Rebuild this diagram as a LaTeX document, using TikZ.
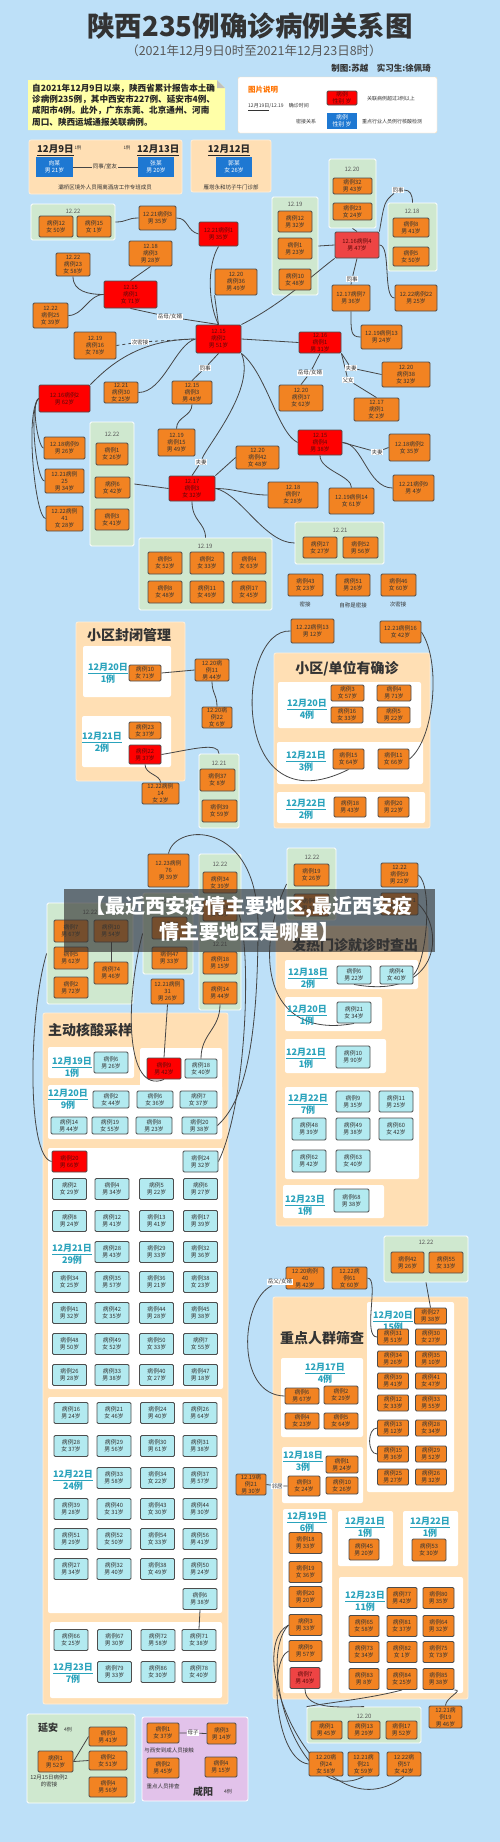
\documentclass[tikz,border=0pt]{standalone}
\usepackage{fontspec}
\setmainfont{Noto Sans CJK SC}
\pgfdeclarelayer{panels}
\pgfdeclarelayer{edges}
\pgfsetlayers{panels,edges,main}
\definecolor{bgc}{HTML}{BDE0F8}
\definecolor{org}{HTML}{F28322}
\definecolor{redA}{HTML}{FF0000}
\definecolor{redB}{HTML}{EE4444}
\definecolor{redT}{HTML}{5C0A0A}
\definecolor{cyn}{HTML}{B3EAF0}
\definecolor{grn}{HTML}{CFE8CF}
\definecolor{pch}{HTML}{FFDFB4}
\definecolor{pur}{HTML}{E2C2EA}
\definecolor{bdr}{HTML}{4D4D4D}
\definecolor{txc}{HTML}{333333}
\definecolor{lnc}{HTML}{454545}
\definecolor{dtc}{HTML}{2AA3BC}
\definecolor{blu}{HTML}{1E78D2}
\definecolor{yel}{HTML}{FFFFA8}
\newcommand\fsb{\fontsize{5.8}{7}\selectfont}
\newcommand\mybox[7]{\node[#1,minimum width={(#5)-(#3)},minimum height={(#6)-(#4)}] (#2) at ({((#3)+(#5))/2},{((#4)+(#6))/2}) {#7};}
\newcommand\cbox[7]{\node[#1,minimum width=#5pt,minimum height=#6pt] (#2) at (#3,#4) {#7};}
\newcommand\datel[5]{\node[dtx] (#1) at (#2,#3) {\underline{#4}\\#5};}
\tikzset{
 ob/.style={draw=bdr,fill=org,rounded corners=1.2pt,line width=0.9pt,text=txc,font=\fsb,align=center,inner sep=0pt},
 rb/.style={ob,fill=redA,text=redT},
 lrb/.style={ob,fill=redB,text=redT},
 cb/.style={ob,fill=cyn},
 bb/.style={fill=blu,text=white,font=\fsb,align=center,inner sep=0pt},
 gp/.style={draw=white,line width=0.8pt,fill=grn,rounded corners=1.5pt,inner sep=0pt},
 pp/.style={draw=white!50!pch,line width=0.8pt,fill=pch,rounded corners=2pt,inner sep=0pt},
 ppu/.style={draw=white,line width=0.8pt,fill=pur,rounded corners=2pt,inner sep=0pt},
 wp/.style={fill=white,rounded corners=2pt,inner sep=0pt},
 ln/.style={draw=lnc,line width=0.8pt},
 lbl/.style={fill=white,font=\fontsize{5.5}{6}\selectfont,inner sep=0.6pt,text=txc},
 plab/.style={font=\fontsize{6}{7}\selectfont,text=black!65,inner sep=0pt},
 dtx/.style={font=\fontsize{9}{10.5}\selectfont\bfseries,text=dtc,align=center,inner sep=0pt},
 captx/.style={font=\fontsize{5.5}{7}\selectfont,text=txc,align=center,inner sep=0pt},
 sect/.style={font=\fontsize{14}{16}\selectfont\bfseries,text=black!80,inner sep=0pt},
 smalltx/.style={font=\fontsize{5}{6}\selectfont,text=txc,inner sep=0pt},
}
\begin{document}
\begin{tikzpicture}[x=1pt,y=-1pt]
\begin{pgfonlayer}{panels}
\fill[bgc] (0,0) rectangle (500,1842);
\fill[yel] (28,80) -- (217,80) -- (225,88) -- (225,130) -- (28,130) -- cycle;
\fill[black!25] (217,80) -- (217,88) -- (225,88) -- cycle;
\mybox{pp}{pp1}{29}{140}{182}{194}{}
\mybox{pp}{pp2}{191}{140}{271}{192}{}
\mybox{gp}{g1}{31}{204}{115}{240}{}
\mybox{gp}{g2}{329}{159}{376}{228}{}
\mybox{gp}{g3}{272}{197}{318}{295}{}
\mybox{gp}{g4}{388}{203}{437}{271}{}
\mybox{gp}{g5}{90}{422}{134}{546}{}
\mybox{gp}{g6}{139}{538}{272}{610}{}
\mybox{gp}{g7}{295}{522}{384}{564}{}
\mybox{pp}{pp3}{76}{622}{185}{781}{}
\mybox{wp}{wp1}{83}{646}{171}{697}{}
\mybox{wp}{wp2}{82}{716}{171}{767}{}
\mybox{gp}{g8}{199}{754}{239}{828}{}
\mybox{pp}{pp4}{274}{653}{430}{828}{}
\mybox{wp}{wp3}{278}{682}{421}{728}{}
\mybox{wp}{wp4}{277}{742}{423}{784}{}
\mybox{wp}{wp5}{277}{792}{425}{823}{}
\mybox{gp}{g9}{199}{854}{241}{1010}{}
\mybox{gp}{g10}{143}{893}{193}{974}{}
\mybox{gp}{g11}{47}{903}{133}{1004}{}
\mybox{gp}{g12}{287}{848}{336}{920}{}
\mybox{pp}{pp5}{276}{926}{428}{1226}{}
\mybox{wp}{wp6}{285}{960}{418}{989}{}
\mybox{wp}{wp7}{285}{997}{382}{1031}{}
\mybox{wp}{wp8}{285}{1039}{386}{1073}{}
\mybox{wp}{wp9}{285}{1087}{419}{1179}{}
\mybox{wp}{wp10}{283}{1185}{384}{1218}{}
\mybox{pp}{pp6}{43}{1013}{228}{1704}{}
\mybox{wp}{wp11}{48}{1047}{134}{1078}{}
\mybox{wp}{wp12}{140}{1048}{222}{1139}{}
\mybox{wp}{wp13}{48}{1085}{222}{1139}{}
\mybox{wp}{wp14}{48}{1148}{223}{1389}{}
\mybox{wp}{wp15}{48}{1397}{222}{1613}{}
\mybox{wp}{wp16}{50}{1622}{222}{1698}{}
\mybox{gp}{g13}{384}{1236}{468}{1282}{}
\mybox{pp}{pp7}{273}{1297}{468}{1699}{}
\mybox{wp}{wp17}{367}{1302}{454}{1492}{}
\mybox{wp}{wp18}{281}{1358}{363}{1437}{}
\mybox{wp}{wp19}{282}{1447}{363}{1503}{}
\mybox{wp}{wp20}{283}{1509}{332}{1693}{}
\mybox{wp}{wp21}{338}{1511}{393}{1566}{}
\mybox{wp}{wp22}{403}{1511}{458}{1566}{}
\mybox{wp}{wp23}{339}{1577}{463}{1693}{}
\mybox{gp}{g14}{307}{1707}{421}{1743}{}
\mybox{gp}{gya}{27}{1714}{135}{1803}{}
\mybox{ppu}{gxy}{142}{1717}{248}{1801}{}
\end{pgfonlayer}
% ---------- header ----------
\node[font=\fontsize{27.5}{30}\selectfont\bfseries,text=txc] (title) at (250,26) {陕西235例确诊病例关系图};
\node[font=\fontsize{12.5}{14}\selectfont,text=black!65] (sub) at (254,51) {（2021年12月9日0时至2021年12月23日8时）};
\node[font=\fontsize{8.5}{10}\selectfont\bfseries,text=txc,anchor=east,inner sep=0] (auth) at (431,68) {制图:苏越\quad 实习生:徐佩琦};
\node[anchor=north west,font=\fontsize{8.6}{11.2}\selectfont\bfseries,text=black!85,inner sep=0pt,align=left] (note) at (32,84) {自2021年12月9日以来，陕西省累计报告本土确\\诊病例235例，其中西安市227例、延安市4例、\\咸阳市4例。此外，广东东莞、北京通州、河南\\周口、陕西运城通报关联病例。};
\node[fill=white,draw=pch,rounded corners=2pt,minimum width=199pt,minimum height=56pt,inner sep=0] (leg) at (337.5,105) {};
\node[anchor=west,font=\fontsize{7.5}{9}\selectfont\bfseries,text=orange!90!red,inner sep=0] (legt) at (248,90) {图片说明};
\node[anchor=west,smalltx] (legd) at (248,107) {\underline{12月19日}/12.19\quad 确诊时间};
\coordinate (lga) at (248,122);
\coordinate (lgb) at (287,122);
\node[anchor=west,smalltx] (legl) at (296,122) {密接关系};
\mybox{rb}{lg1}{327}{91}{357}{105}{病例\\性别 岁}
\node[anchor=west,smalltx] (lgr) at (367,99) {关联病例超过3例以上};
\mybox{bb}{lg2}{327}{113}{357}{129}{病例\\性别 岁}
\node[anchor=west,smalltx] (lgbt) at (362,122) {重点行业人员例行核酸检测};
% ---------- top panels ----------
\node[anchor=west,font=\fontsize{9.5}{11}\selectfont\bfseries,inner sep=0,text=black!85] (d9) at (37,150) {\underline{12月9日}};
\node[font=\fontsize{4.5}{5}\selectfont,text=txc,inner sep=0] (d9c) at (78,148) {1例};
\node[font=\fontsize{4.5}{5}\selectfont,text=txc,inner sep=0] (d13c) at (127,148) {1例};
\node[anchor=west,font=\fontsize{9.5}{11}\selectfont\bfseries,inner sep=0,text=black!85] (d13) at (137,150) {\underline{12月13日}};
\mybox{bb}{bb1}{36}{157}{73}{177}{向某\\男 21岁}
\mybox{bb}{bb2}{138}{157}{174}{177}{张某\\男 20岁}
\node[lbl,fill=pch] (lts) at (105,167) {同事/室友};
\node[captx] (cap1) at (105,187) {灞桥区境外人员隔离酒店工作专班成员};
\node[font=\fontsize{9.5}{11}\selectfont\bfseries,inner sep=0,text=black!85] (d12) at (229,150) {\underline{12月12日}};
\mybox{bb}{bb3}{216}{157}{252}{177}{郭某\\女 26岁}
\node[captx] (cap2) at (231,187) {雁塔永和坊子牛门诊部};
% ---------- network ----------
\node[plab] (g1l) at (73,211) {12.22};
\mybox{ob}{a1}{39}{216}{73}{237}{病例12\\女 50岁}
\mybox{ob}{a2}{77}{216}{111}{237}{病例15\\女 1岁}
\mybox{ob}{n1}{139}{206}{176}{230}{12.21病例3\\男 35岁}
\mybox{rb}{n2}{199}{222}{238}{246}{12.21病例1\\男 35岁}
\mybox{ob}{n3}{129}{241}{172}{266}{12.18\\病例3\\男 28岁}
\mybox{ob}{n4}{56}{253}{90}{276}{12.22\\病例23\\女 58岁}
\mybox{rb}{n5}{104}{281}{157}{308}{12.15\\病例1\\女 71岁}
\mybox{ob}{n6}{33}{303}{68}{328}{12.22\\病例25\\女 39岁}
\mybox{ob}{n7}{215}{269}{257}{295}{12.20\\病例36\\男 49岁}
\mybox{rb}{n8}{196}{325}{241}{353}{12.15\\病例2\\男 51岁}
\node[lbl] (lym) at (170,317) {岳母/女婿};
\mybox{ob}{n9}{74}{332}{116}{359}{12.19\\病例16\\女 78岁}
\node[lbl] (lcmj) at (140,342) {次密接};
\node[plab] (g2l) at (352,169) {12.20};
\mybox{ob}{b1}{333}{178}{372}{194}{病例32\\男 43岁}
\mybox{ob}{b2}{333}{203}{372}{220}{病例23\\女 24岁}
\node[plab] (g3l) at (295,204) {12.19};
\mybox{ob}{c1}{278}{211}{312}{232}{病例12\\男 32岁}
\mybox{ob}{c2}{278}{238}{312}{259}{病例1\\男 23岁}
\mybox{ob}{c3}{279}{269}{311}{290}{病例10\\女 48岁}
\mybox{lrb}{n10}{335}{232}{379}{258}{12.16病例4\\男 47岁}
\node[plab] (g4l) at (412,211) {12.18};
\mybox{ob}{d1}{393}{218}{429}{237}{病例8\\男 41岁}
\mybox{ob}{d2}{393}{247}{429}{266}{病例5\\女 50岁}
\node[lbl] (lts1) at (398,190) {同事};
\node[lbl] (lts2) at (352,279) {同事};
\mybox{ob}{n11}{332}{285}{370}{311}{12.17病例7\\男 36岁}
\mybox{ob}{n12}{395}{285}{437}{311}{12.22病例22\\男 25岁}
\mybox{ob}{n13}{361}{325}{402}{349}{12.19病例13\\男 24岁}
\mybox{rb}{n14}{299}{332}{341}{353}{12.16\\病例1\\男 31岁}
\mybox{rb}{n15}{39}{385}{90}{412}{12.16病例2\\男 62岁}
\mybox{ob}{n16}{104}{382}{138}{403}{12.21\\病例30\\女 25岁}
\mybox{ob}{n17}{172}{381}{212}{404}{12.15\\病例3\\男 48岁}
\node[lbl] (lts3) at (205,368) {同事};
\mybox{ob}{n18}{158}{429}{195}{456}{12.19\\病例15\\男 49岁}
\node[lbl] (lfq1) at (201,462) {夫妻};
\mybox{rb}{n19}{169}{476}{215}{501}{12.17\\病例3\\女 32岁}
\mybox{ob}{n20}{44}{437}{85}{459}{12.18病例9\\男 26岁}
\mybox{ob}{n21}{45}{469}{84}{493}{12.21病例\\25\\男 34岁}
\mybox{ob}{n22}{46}{506}{83}{531}{12.22病例\\41\\女 28岁}
\node[plab] (g5l) at (112,434) {12.22};
\mybox{ob}{e1}{96}{443}{128}{465}{病例1\\女 26岁}
\mybox{ob}{e2}{95}{477}{130}{498}{病例6\\女 42岁}
\mybox{ob}{e3}{95}{509}{129}{530}{病例3\\女 41岁}
\mybox{ob}{n23}{236}{446}{279}{469}{12.20\\病例42\\女 48岁}
\node[plab] (g6l) at (205,546) {12.19};
\mybox{ob}{f1}{148}{552}{182}{574}{病例5\\女 52岁}
\mybox{ob}{f2}{190}{552}{224}{574}{病例2\\女 33岁}
\mybox{ob}{f3}{232}{552}{266}{574}{病例4\\女 63岁}
\mybox{ob}{f4}{148}{581}{182}{603}{病例8\\女 48岁}
\mybox{ob}{f5}{190}{581}{224}{603}{病例11\\女 49岁}
\mybox{ob}{f6}{232}{581}{266}{603}{病例17\\女 45岁}
\node[lbl] (lym2) at (310,373) {岳母/女婿};
\node[lbl] (lfq2) at (351,368) {夫妻};
\node[lbl] (lfn) at (348,380) {父女};
\mybox{ob}{n24}{279}{385}{323}{411}{12.20\\病例37\\女 62岁}
\mybox{ob}{n25}{382}{362}{430}{387}{12.20\\病例38\\女 32岁}
\mybox{ob}{n26}{354}{398}{399}{421}{12.17\\病例1\\女 2岁}
\mybox{rb}{n27}{298}{430}{342}{455}{12.15\\病例4\\男 38岁}
\mybox{ob}{n28}{389}{434}{430}{461}{12.18病例2\\女 35岁}
\node[lbl] (lfq3) at (377,452) {夫妻};
\mybox{ob}{n29}{393}{475}{434}{501}{12.21病例9\\男 4岁}
\mybox{ob}{n30}{268}{482}{318}{508}{12.18\\病例7\\女 28岁}
\mybox{ob}{n31}{329}{488}{374}{514}{12.19病例14\\女 61岁}
\node[plab] (g7l) at (340,530) {12.21};
\mybox{ob}{h1}{303}{537}{337}{558}{病例27\\女 27岁}
\mybox{ob}{h2}{343}{537}{378}{558}{病例52\\男 56岁}
\mybox{ob}{n32}{288}{574}{323}{596}{病例43\\女 23岁}
\node[captx] (cp32) at (305,604) {密接};
\mybox{ob}{n33}{336}{574}{370}{596}{病例51\\男 26岁}
\node[captx] (cp33) at (353,605) {自称是密接};
\mybox{ob}{n34}{381}{574}{416}{596}{病例46\\女 60岁}
\node[captx] (cp34) at (398,604) {次密接};
% ---------- 小区封闭管理 ----------
\node[sect,anchor=west] (s1t) at (87,635) {小区封闭管理};
\datel{dk1}{108}{673}{12月20日}{1例}
\mybox{ob}{k1}{129}{665}{161}{681}{病例10\\女 71岁}
\datel{dk2}{102}{742}{12月21日}{2例}
\mybox{ob}{k2}{129}{722}{161}{739}{病例23\\女 37岁}
\mybox{rb}{k3}{129}{745}{161}{764}{病例22\\男 37岁}
\mybox{ob}{k4}{195}{659}{229}{681}{12.20病\\例11\\男 44岁}
\mybox{ob}{k5}{202}{707}{232}{728}{12.20病\\例22\\女 6岁}
\mybox{ob}{k6}{142}{783}{179}{804}{12.22病例\\14\\女 2岁}
\node[plab] (g8l) at (219,763) {12.21};
\mybox{ob}{k7}{200}{769}{235}{791}{病例37\\女 8岁}
\mybox{ob}{k8}{202}{800}{237}{822}{病例39\\女 59岁}
% ---------- 小区/单位有确诊 ----------
\node[sect] (s2t) at (347,669) {小区/单位有确诊};
\datel{dm1}{307}{709}{12月20日}{4例}
\mybox{ob}{m1}{331}{685}{364}{701}{病例3\\女 57岁}
\mybox{ob}{m2}{377}{685}{411}{701}{病例4\\男 71岁}
\mybox{ob}{m3}{331}{707}{363}{723}{病例16\\女 33岁}
\mybox{ob}{m4}{377}{707}{410}{723}{病例5\\男 22岁}
\datel{dm2}{306}{761}{12月21日}{3例}
\mybox{ob}{m5}{333}{749}{364}{769}{病例15\\女 64岁}
\mybox{ob}{m6}{378}{749}{409}{769}{病例11\\女 66岁}
\datel{dm3}{306}{809}{12月22日}{2例}
\mybox{ob}{m7}{334}{797}{366}{817}{病例18\\男 43岁}
\mybox{ob}{m8}{378}{797}{409}{817}{病例20\\男 22岁}
\mybox{ob}{k9}{291}{619}{334}{643}{12.22病例13\\男 12岁}
\mybox{ob}{k10}{380}{621}{421}{643}{12.21病例16\\女 42岁}
% ---------- middle ----------
\mybox{ob}{n35}{148}{854}{189}{887}{12.23病例\\76\\男 39岁}
\node[plab] (g9l) at (220,864) {12.22};
\mybox{ob}{p1}{203}{872}{237}{893}{病例34\\女 39岁}
\mybox{ob}{p2}{203}{900}{237}{921}{病例58\\女 65岁}
\node[plab] (g9m) at (220,944) {12.21};
\mybox{ob}{p3}{203}{952}{237}{974}{病例18\\男 15岁}
\mybox{ob}{p4}{203}{982}{237}{1004}{病例14\\男 44岁}
\node[plab] (g10l) at (168,901) {12.22};
\mybox{ob}{q1}{152}{917}{187}{939}{病例53\\女 35岁}
\mybox{ob}{q2}{152}{947}{187}{969}{病例47\\男 33岁}
\mybox{ob}{n36}{151}{979}{184}{1004}{12.21病例\\31\\男 26岁}
\node[plab] (g11l) at (90,912) {12.22};
\mybox{ob}{r1}{54}{920}{88}{942}{病例7\\男 67岁}
\mybox{ob}{r2}{94}{920}{128}{942}{病例10\\男 54岁}
\mybox{ob}{r3}{54}{947}{88}{969}{病例5\\男 62岁}
\mybox{ob}{r4}{94}{962}{128}{984}{病例74\\男 46岁}
\mybox{ob}{r5}{54}{977}{88}{998}{病例2\\男 72岁}
\node[plab] (g12l) at (312,857) {12.22};
\mybox{ob}{s1}{294}{864}{329}{886}{病例19\\女 26岁}
\mybox{ob}{s2}{294}{894}{329}{916}{病例70\\男 33岁}
\mybox{ob}{n37}{381}{863}{418}{887}{12.22\\病例59\\男 22岁}
\mybox{ob}{n38}{381}{893}{418}{915}{12.22病例71\\男 33岁}
% ---------- 发热门诊 ----------
\node[sect] (s3t) at (355,945) {发热门诊就诊时查出};
\datel{dt1}{308}{978}{12月18日}{2例}
\mybox{cb}{t1}{337}{966}{371}{984}{病例6\\男 22岁}
\mybox{cb}{t2}{380}{966}{413}{984}{病例4\\女 40岁}
\datel{dt2}{307}{1015}{12月20日}{1例}
\mybox{cb}{t3}{337}{1002}{371}{1023}{病例21\\女 34岁}
\datel{dt3}{306}{1058}{12月21日}{1例}
\mybox{cb}{t4}{336}{1046}{370}{1068}{病例10\\男 90岁}
\datel{dt4}{308}{1104}{12月22日}{7例}
\mybox{cb}{t5}{336}{1091}{370}{1112}{病例9\\男 35岁}
\mybox{cb}{t6}{379}{1091}{413}{1112}{病例11\\男 25岁}
\mybox{cb}{t7}{292}{1118}{326}{1140}{病例48\\男 39岁}
\mybox{cb}{t8}{336}{1118}{370}{1140}{病例49\\男 38岁}
\mybox{cb}{t9}{379}{1118}{413}{1140}{病例60\\女 42岁}
\mybox{cb}{t10}{292}{1150}{326}{1172}{病例62\\男 42岁}
\mybox{cb}{t11}{336}{1150}{370}{1172}{病例63\\女 40岁}
\datel{dt5}{305}{1205}{12月23日}{1例}
\mybox{cb}{t12}{334}{1189}{369}{1212}{病例68\\男 38岁}
% ---------- 主动核酸采样 ----------
\node[sect,anchor=west] (s4t) at (48,1030) {主动核酸采样};
\datel{du1}{72}{1067}{12月19日}{1例}
\mybox{cb}{u1}{94}{1052}{128}{1073}{病例6\\男 26岁}
\mybox{rb}{u2}{147}{1058}{181}{1079}{病例9\\男 42岁}
\mybox{cb}{u3}{185}{1059}{217}{1078}{病例18\\女 40岁}
\datel{du2}{68}{1099}{12月20日}{9例}
\mybox{cb}{u4}{93}{1091}{129}{1108}{病例2\\女 44岁}
\mybox{cb}{u5}{137}{1091}{173}{1108}{病例6\\女 36岁}
\mybox{cb}{u6}{180}{1091}{217}{1108}{病例7\\女 37岁}
\mybox{cb}{u7}{51}{1117}{87}{1134}{病例14\\男 44岁}
\mybox{cb}{u8}{92}{1117}{128}{1134}{病例19\\女 55岁}
\mybox{cb}{u9}{136}{1117}{172}{1134}{病例8\\男 23岁}
\mybox{cb}{u10}{182}{1117}{217}{1134}{病例20\\男 38岁}
\mybox{rb}{v0}{52}{1151}{87}{1172}{病例20\\男 66岁}
\mybox{cb}{v00}{183}{1151}{218}{1172}{病例24\\男 32岁}
\cbox{cb}{v1}{69.5}{1189}{34}{21}{病例2\\女 29岁}
\cbox{cb}{v2}{112}{1189}{34}{21}{病例4\\男 34岁}
\cbox{cb}{v3}{156.5}{1189}{34}{21}{病例5\\男 22岁}
\cbox{cb}{v4}{200.5}{1189}{34}{21}{病例6\\男 27岁}
\cbox{cb}{v5}{69.5}{1221}{34}{21}{病例8\\男 24岁}
\cbox{cb}{v6}{112}{1221}{34}{21}{病例12\\男 41岁}
\cbox{cb}{v7}{156.5}{1221}{34}{21}{病例13\\男 41岁}
\cbox{cb}{v8}{200.5}{1221}{34}{21}{病例17\\男 39岁}
\datel{du3}{72}{1254}{12月21日}{29例}
\cbox{cb}{v9}{112}{1252}{34}{21}{病例28\\男 43岁}
\cbox{cb}{v10}{156.5}{1252}{34}{21}{病例29\\男 33岁}
\cbox{cb}{v11}{200.5}{1252}{34}{21}{病例32\\男 36岁}
\cbox{cb}{v12}{69.5}{1282}{34}{21}{病例34\\女 25岁}
\cbox{cb}{v13}{112}{1282}{34}{21}{病例35\\男 57岁}
\cbox{cb}{v14}{156.5}{1282}{34}{21}{病例36\\男 21岁}
\cbox{cb}{v15}{200.5}{1282}{34}{21}{病例38\\女 23岁}
\cbox{cb}{v16}{69.5}{1313}{34}{21}{病例41\\男 32岁}
\cbox{cb}{v17}{112}{1313}{34}{21}{病例42\\女 35岁}
\cbox{cb}{v18}{156.5}{1313}{34}{21}{病例44\\男 28岁}
\cbox{cb}{v19}{200.5}{1313}{34}{21}{病例45\\男 38岁}
\cbox{cb}{v20}{69.5}{1344}{34}{21}{病例48\\男 50岁}
\cbox{cb}{v21}{112}{1344}{34}{21}{病例49\\女 52岁}
\cbox{cb}{v22}{156.5}{1344}{34}{21}{病例50\\女 33岁}
\cbox{cb}{v23}{200.5}{1344}{34}{21}{病例7\\女 55岁}
\cbox{cb}{v24}{69.5}{1375}{34}{21}{病例26\\男 28岁}
\cbox{cb}{v25}{112}{1375}{34}{21}{病例33\\男 38岁}
\cbox{cb}{v26}{156.5}{1375}{34}{21}{病例40\\女 27岁}
\cbox{cb}{v27}{200.5}{1375}{34}{21}{病例47\\男 18岁}
\cbox{cb}{w1}{71}{1413}{34}{21}{病例16\\男 24岁}
\cbox{cb}{w2}{114}{1413}{34}{21}{病例21\\女 46岁}
\cbox{cb}{w3}{157.5}{1413}{34}{21}{病例24\\男 40岁}
\cbox{cb}{w4}{200}{1413}{34}{21}{病例26\\男 64岁}
\cbox{cb}{w5}{71}{1446}{34}{21}{病例28\\女 37岁}
\cbox{cb}{w6}{114}{1446}{34}{21}{病例29\\男 56岁}
\cbox{cb}{w7}{157.5}{1446}{34}{21}{病例30\\男 61岁}
\cbox{cb}{w8}{200}{1446}{34}{21}{病例31\\男 38岁}
\datel{du4}{73}{1480}{12月22日}{24例}
\cbox{cb}{w9}{114}{1478}{34}{21}{病例33\\男 58岁}
\cbox{cb}{w10}{157.5}{1478}{34}{21}{病例34\\女 22岁}
\cbox{cb}{w11}{200}{1478}{34}{21}{病例37\\男 57岁}
\cbox{cb}{w12}{71}{1509}{34}{21}{病例39\\男 28岁}
\cbox{cb}{w13}{114}{1509}{34}{21}{病例40\\女 31岁}
\cbox{cb}{w14}{157.5}{1509}{34}{21}{病例43\\女 30岁}
\cbox{cb}{w15}{200}{1509}{34}{21}{病例44\\男 30岁}
\cbox{cb}{w16}{71}{1539}{34}{21}{病例51\\男 29岁}
\cbox{cb}{w17}{114}{1539}{34}{21}{病例52\\女 50岁}
\cbox{cb}{w18}{157.5}{1539}{34}{21}{病例54\\女 33岁}
\cbox{cb}{w19}{200}{1539}{34}{21}{病例56\\男 41岁}
\cbox{cb}{w20}{71}{1569}{34}{21}{病例27\\男 34岁}
\cbox{cb}{w21}{114}{1569}{34}{21}{病例32\\男 40岁}
\cbox{cb}{w22}{157.5}{1569}{34}{21}{病例38\\女 49岁}
\cbox{cb}{w23}{200}{1569}{34}{21}{病例50\\男 24岁}
\cbox{cb}{w24}{200}{1599}{34}{21}{病例6\\男 38岁}
\cbox{cb}{x1}{71}{1640}{34}{21}{病例66\\女 25岁}
\cbox{cb}{x2}{114.5}{1640}{34}{21}{病例67\\男 30岁}
\cbox{cb}{x3}{158}{1640}{34}{21}{病例72\\男 58岁}
\cbox{cb}{x4}{199}{1640}{34}{21}{病例71\\女 38岁}
\datel{du5}{73}{1673}{12月23日}{7例}
\cbox{cb}{x5}{114.5}{1672}{34}{21}{病例79\\男 33岁}
\cbox{cb}{x6}{158}{1672}{34}{21}{病例86\\女 30岁}
\cbox{cb}{x7}{199}{1672}{34}{21}{病例78\\女 40岁}
% ---------- 重点人群筛查 ----------
\node[plab] (g13l) at (426,1242) {12.22};
\mybox{ob}{xa}{391}{1252}{424}{1273}{病例42\\男 26岁}
\mybox{ob}{xb}{429}{1252}{463}{1273}{病例55\\女 33岁}
\mybox{ob}{y1}{286}{1267}{324}{1289}{12.20病例\\40\\男 42岁}
\mybox{ob}{y2}{332}{1267}{367}{1289}{12.22病\\例61\\女 60岁}
\node[lbl] (lyf) at (280,1282) {岳父/女婿};
\node[sect,anchor=west] (s5t) at (280,1338) {重点人群筛查};
\datel{dz1}{393}{1321}{12月20日}{15例}
\cbox{ob}{z0}{430.5}{1316}{32}{16}{病例27\\男 38岁}
\cbox{ob}{za1}{393}{1337}{31}{16}{病例31\\男 51岁}
\cbox{ob}{zb1}{431}{1337}{31}{16}{病例30\\女 27岁}
\cbox{ob}{za2}{393}{1359}{31}{16}{病例34\\男 26岁}
\cbox{ob}{zb2}{431}{1359}{31}{16}{病例35\\男 10岁}
\cbox{ob}{za3}{393}{1381}{31}{16}{病例39\\男 41岁}
\cbox{ob}{zb3}{431}{1381}{31}{16}{病例41\\女 47岁}
\cbox{ob}{za4}{393}{1403}{31}{16}{病例12\\女 33岁}
\cbox{ob}{zb4}{431}{1403}{31}{16}{病例33\\男 55岁}
\cbox{ob}{za5}{393}{1428}{31}{16}{病例13\\男 12岁}
\cbox{ob}{zb5}{431}{1428}{31}{16}{病例28\\女 34岁}
\cbox{ob}{za6}{393}{1454}{31}{16}{病例15\\男 36岁}
\cbox{ob}{zb6}{431}{1454}{31}{16}{病例29\\男 52岁}
\cbox{ob}{za7}{393}{1477}{31}{16}{病例25\\男 27岁}
\cbox{ob}{zb7}{431}{1477}{31}{16}{病例26\\男 32岁}
\datel{dz2}{325}{1373}{12月17日}{4例}
\mybox{ob}{zz1}{285}{1388}{319}{1404}{病例6\\男 67岁}
\mybox{ob}{zz2}{324}{1386}{358}{1404}{病例2\\女 29岁}
\mybox{ob}{zz3}{285}{1413}{319}{1429}{病例4\\女 23岁}
\mybox{ob}{zz4}{324}{1413}{358}{1429}{病例5\\女 64岁}
\datel{dz3}{303}{1461}{12月18日}{3例}
\mybox{ob}{zy1}{326}{1456}{358}{1473}{病例1\\男 24岁}
\mybox{ob}{zy2}{288}{1476}{320}{1496}{病例3\\女 24岁}
\mybox{ob}{zy3}{326}{1477}{358}{1494}{病例10\\女 26岁}
\mybox{ob}{y3}{236}{1474}{266}{1495}{12.19病\\例21\\男 30岁}
\node[lbl] (llj) at (277,1486) {邻居};
\datel{dz4}{307}{1522}{12月19日}{6例}
\cbox{ob}{zx1}{305.5}{1543}{33}{21}{病例18\\男 33岁}
\cbox{ob}{zx2}{305.5}{1572}{33}{21}{病例19\\女 36岁}
\cbox{ob}{zx3}{305.5}{1597}{33}{21}{病例20\\男 20岁}
\cbox{ob}{zx4}{305.5}{1625}{33}{21}{病例3\\男 33岁}
\cbox{ob}{zx5}{305.5}{1651}{33}{21}{病例9\\男 57岁}
\cbox{lrb}{zx6}{305}{1678}{30}{21}{病例7\\男 49岁}
\datel{dz5}{365}{1527}{12月21日}{1例}
\mybox{ob}{zw1}{349}{1539}{379}{1560}{病例45\\男 20岁}
\datel{dz6}{430}{1527}{12月22日}{1例}
\mybox{ob}{zw2}{412}{1539}{446}{1561}{病例53\\女 30岁}
\datel{dz7}{365}{1601}{12月23日}{11例}
\cbox{ob}{ac1}{402}{1598}{30}{21}{病例77\\男 42岁}
\cbox{ob}{ac2}{438.5}{1598}{31}{21}{病例80\\男 35岁}
\cbox{ob}{ac3}{364}{1626}{30}{21}{病例65\\女 58岁}
\cbox{ob}{ac4}{402}{1626}{30}{21}{病例81\\女 37岁}
\cbox{ob}{ac5}{438.5}{1626}{31}{21}{病例64\\男 32岁}
\cbox{ob}{ac6}{364}{1652}{30}{21}{病例73\\女 34岁}
\cbox{ob}{ac7}{402}{1652}{30}{21}{病例82\\女 1岁}
\cbox{ob}{ac8}{438.5}{1652}{31}{21}{病例75\\女 73岁}
\cbox{ob}{ac9}{364}{1679}{30}{21}{病例83\\男 8岁}
\cbox{ob}{ac10}{402}{1679}{30}{21}{病例84\\女 25岁}
\cbox{ob}{ac11}{438.5}{1679}{31}{21}{病例85\\男 38岁}
\node[plab] (g14l) at (364,1716) {12.20};
\mybox{ob}{aa1}{311}{1721}{342}{1739}{病例1\\男 45岁}
\mybox{ob}{aa2}{348}{1721}{380}{1739}{病例13\\男 29岁}
\mybox{ob}{aa3}{386}{1721}{417}{1739}{病例17\\男 52岁}
\mybox{ob}{ab1}{429}{1706}{462}{1728}{12.21病\\例19\\男 46岁}
\mybox{ob}{ab2}{309}{1752}{343}{1776}{12.20病\\例24\\女 58岁}
\mybox{ob}{ab3}{348}{1752}{379}{1776}{12.21病\\例21\\女 59岁}
\mybox{ob}{ab4}{387}{1752}{421}{1776}{12.22病\\例57\\女 42岁}
% ---------- 延安 / 咸阳 ----------
\node[font=\fontsize{10}{12}\selectfont\bfseries,text=black!80,inner sep=0] (yat) at (48,1728) {延安};
\node[smalltx] (yac) at (68,1730) {4例};
\mybox{ob}{ya1}{38}{1751}{73}{1772}{病例1\\男 52岁}
\node[captx] (yacap) at (49,1781) {12月15日病例2\\的密接};
\mybox{ob}{ya2}{89}{1727}{127}{1746}{病例3\\男 41岁}
\mybox{ob}{ya3}{89}{1751}{127}{1770}{病例2\\女 51岁}
\mybox{ob}{ya4}{89}{1777}{127}{1797}{病例4\\男 56岁}
\mybox{ob}{xy1}{147}{1723}{179}{1743}{病例1\\女 37岁}
\mybox{ob}{xy2}{207}{1723}{236}{1744}{病例3\\男 14岁}
\node[lbl] (lmz) at (193,1733) {母子};
\node[captx] (xycap1) at (169,1750) {与西安到咸人员接触};
\mybox{ob}{xy3}{147}{1758}{179}{1778}{病例2\\男 45岁}
\mybox{ob}{xy4}{205}{1757}{237}{1777}{病例4\\男 15岁}
\node[captx] (xycap2) at (163,1786) {重点人员排查};
\node[font=\fontsize{10}{12}\selectfont\bfseries,text=black!80,inner sep=0] (xyt) at (203,1792) {咸阳};
\node[smalltx] (xyc) at (228,1792) {4例};
\coordinate (via1) at (258,925);
% ---------- connectors ----------
\begin{pgfonlayer}{edges}
\draw[ln] (bb1) -- (lts) -- (bb2);
\draw[ln] (lga) -- (lgb);
\draw[ln] (g1.east) .. controls +(12,0) and +(-12,0) .. (n1.west);
\draw[ln] (n1.east) .. controls +(12,0) and +(-12,-3) .. (n2.west);
\draw[ln] (n3.south) -- (n5.north);
\draw[ln] (n4.south) .. controls +(0,15) and +(-15,0) .. (n5.west);
\draw[ln] (n6.east) .. controls +(15,0) and +(-15,0) .. (n5.west);
\draw[ln] (n5.south) -- (lym) -- (n8.north);
\draw[ln] (n2.south) .. controls +(-12,20) and +(-10,-20) .. (n8.north);
\draw[ln] (n7.south west) -- (n8.north);
\draw[ln,dashed] (n9.east) -- (lcmj) -- (n8.west);
\draw[ln] (n8.west) .. controls +(-60,0) and +(15,-15) .. (n15.north east);
\draw[ln] (n8.west) .. controls +(-20,5) and +(25,0) .. (n16.east);
\draw[ln] (n8.south) -- (lts3) -- (n17.north);
\draw[ln] (n17.south) .. controls +(0,12) and +(0,-12) .. (n18.north);
\draw[ln] (n8.south east) .. controls +(15,35) and +(5,-15) .. (lfq1) -- (n19.north);
\draw[ln] (n8.east) -- (n14.west);
\draw[ln] (n8.south east) .. controls +(25,20) and +(-20,-10) .. (n27.west);
\draw[ln] (n8.north east) .. controls +(40,-20) and +(-20,15) .. (n10.south west);
\draw[ln] (n10.west) -- (g3.east);
\draw[ln] (n10.north) -- (g2.south);
\draw[ln] (n10.north east) .. controls +(5,-30) .. (lts1) .. controls +(12,0) and +(0,-8) .. (g4.north);
\draw[ln] (n10.east) .. controls +(12,0) and +(-12,0) .. (n12.west);
\draw[ln] (n10.south) -- (lts2) -- (n11.north);
\draw[ln] (n11.south) .. controls +(0,20) and +(-10,0) .. (n13.west);
\draw[ln] (n14.south) -- (lym2) -- (n24.north);
\draw[ln] (n14.south east) -- (lfq2) -- (n25.west);
\draw[ln] (n14.south east) -- (lfn) -- (n26.north);
\draw[ln] (n27.east) -- (lfq3) -- (n28.west);
\draw[ln] (n27.east) .. controls +(20,0) and +(-25,0) .. (n29.west);
\draw[ln] (n27.south) .. controls +(0,15) and +(0,-12) .. (n31.north);
\draw[ln] (n19.west) -- (g5.east);
\draw[ln] (n19.north east) -- (n23.west);
\draw[ln] (n19.east) .. controls +(20,0) and +(-20,0) .. (n30.west);
\draw[ln] (n19.east) .. controls +(25,5) and +(-30,0) .. (g7.west);
\draw[ln] (n19.south) .. controls +(0,20) and +(0,-15) .. (g6.north);
\draw[ln] (n15.west) .. controls +(-8,5) and +(-5,0) .. (n20.west);
\draw[ln] (n15.west) .. controls +(-10,10) and +(-8,0) .. (n21.west);
\draw[ln] (n15.west) .. controls +(-14,15) and +(-10,0) .. (n22.west);
\draw[ln] (k1.east) -- (k4.west);
\draw[ln] (k4.south) .. controls +(0,12) and +(0,-12) .. (k5.north);
\draw[ln] (k3.east) .. controls +(30,-5) and +(0,-12) .. (g8.north);
\draw[ln] (k3.south) .. controls +(0,10) and +(0,-8) .. (k6.north);
\draw[ln] (k9.west) .. controls (235,628) and (228,830) .. (m5.south);
\draw[ln] (k10.east) .. controls +(20,30) and +(25,-20) .. (m6.east);
\draw[ln] (r2.south) -- (r4.north);
\draw[ln] (g11.west) .. controls +(-18,60) and +(-25,-5) .. (v0.west);
\draw[ln] (n36.south) -- (u2.north);
\draw[ln] (p4.south) .. controls +(0,25) and +(0,-25) .. (u3.north);
\draw[ln] (n35.north) .. controls (175,822) and (258,820) .. (via1) .. controls (258,1060) and (240,1105) .. (u10.east);
\draw[ln] (p2.east) .. controls (252,940) and (248,1100) .. (v00.east);
\draw[ln] (g10.west) .. controls (125,1000) and (125,1095) .. (u2.south);
\draw[ln] (n37.east) .. controls +(14,10) and +(14,-15) .. (t2.east);
\draw[ln] (n38.east) .. controls (445,930) and (440,1000) .. (t1.south);
\draw[ln] (g12.west) .. controls (255,950) and (262,1040) .. (t3.south);
\draw[ln] (g13.south) -- (z0.north);
\draw[ln] (y1.west) -- (lyf);
\draw[ln] (lyf) .. controls (240,1300) and (235,1395) .. (zz1.west);
\draw[ln] (y2.east) .. controls (380,1278) and (362,1337) .. (za1.west);
\draw[ln] (za5.west) .. controls +(-10,0) and +(-10,0) .. (za6.west);
\draw[ln] (y3.east) -- (llj) -- (zy2.west);
\draw[ln] (w24.south) -- (x4.north);
\draw[ln] (zx6.south) .. controls +(0,22) and +(-20,0) .. (g14.north);
\draw[ln] (ac10.south) .. controls +(-30,8) and +(30,-5) .. (g14.north west);
\draw[ln] (ac11.south east) .. controls +(10,0) and +(0,-8) .. (ab1.north);
\draw[ln] (zx5.west) .. controls (268,1660) and (275,1760) .. (ab2.west);
\draw[ln] (zx4.west) .. controls (255,1660) and (300,1810) .. (ab3.south);
\draw[ln] (zx4.west) .. controls (240,1650) and (320,1840) .. (ab4.south);
\draw[ln] (ya1.east) -- (ya2.west);
\draw[ln] (ya1.east) -- (ya3.west);
\draw[ln] (xy1.east) -- (lmz) -- (xy2.west);
\end{pgfonlayer}
% ---------- overlay banner ----------
\node[fill=black!80,fill opacity=0.65,text opacity=1,minimum width=371pt,minimum height=63pt,inner sep=0] (ban) at (249.5,920.5) {};
\node[text=white,font=\fontsize{20}{26}\selectfont\bfseries,align=center,inner sep=0] (bant) at (249,919) {【最近西安疫情主要地区,最近西安疫\\情主要地区是哪里】};
\end{tikzpicture}
\end{document}
